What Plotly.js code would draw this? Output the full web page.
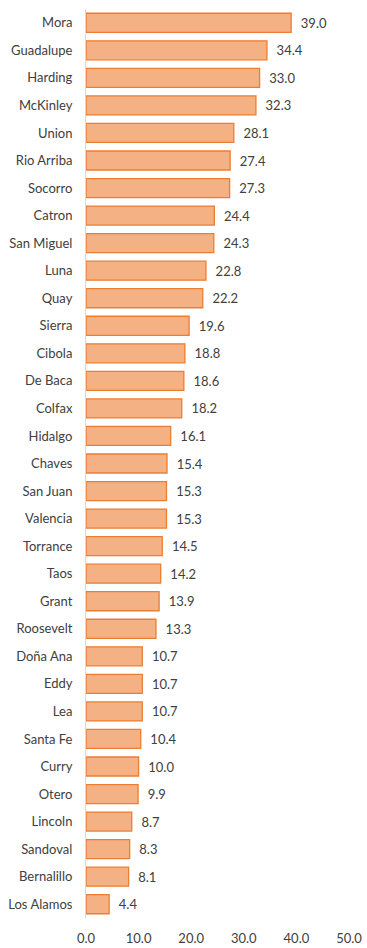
<!DOCTYPE html>
<html><head><meta charset="utf-8">
<script src="https://cdn.plot.ly/plotly-3.0.1.min.js"></script>
<style>html,body{margin:0;padding:0;background:#fff}#chart{width:367px;height:948px}</style>
</head><body><div id="chart"></div>
<script>
const counties = ["Mora","Guadalupe","Harding","McKinley","Union","Rio Arriba","Socorro","Catron","San Miguel","Luna","Quay","Sierra","Cibola","De Baca","Colfax","Hidalgo","Chaves","San Juan","Valencia","Torrance","Taos","Grant","Roosevelt","Doña Ana","Eddy","Lea","Santa Fe","Curry","Otero","Lincoln","Sandoval","Bernalillo","Los Alamos"];
const values = [39.0,34.4,33.0,32.3,28.1,27.4,27.3,24.4,24.3,22.8,22.2,19.6,18.8,18.6,18.2,16.1,15.4,15.3,15.3,14.5,14.2,13.9,13.3,10.7,10.7,10.7,10.4,10.0,9.9,8.7,8.3,8.1,4.4];
const xTicks = [0,10,20,30,40,50];
const xTickText = ["0.0","10.0","20.0","30.0","40.0","50.0"];

const fontFam = "Lato, 'Open Sans', sans-serif";
Plotly.newPlot('chart', [{
  type: 'bar', orientation: 'h',
  x: values, y: counties,
  marker: {color: '#F4B183', line: {color: '#ED7D31', width: 1.3}},
  texttemplate: '\u00a0\u00a0%{x:.1f}', textposition: 'outside', cliponaxis: false,
  textfont: {family: fontFam, size: 13, color: '#404040'},
  hoverinfo: 'none'
}], {
  width: 367, height: 948,
  margin: {l: 86, r: 18, t: 9, b: 30},
  paper_bgcolor: '#fff', plot_bgcolor: '#fff',
  bargap: 0.31,
  showlegend: false,
  font: {family: fontFam, size: 13, color: '#404040'},
  xaxis: {range: [0, 50], tickvals: xTicks, ticktext: xTickText, showgrid: false, zeroline: false,
          showline: false, ticks: '', ticklabelstandoff: 11, tickfont: {size: 13, color: '#404040'}},
  yaxis: {autorange: 'reversed', type: 'category', showgrid: false, zeroline: false,
          showline: true, linecolor: '#D9D9D9', linewidth: 1, ticks: '', ticklen: 0,
          ticklabelstandoff: 10,
          tickfont: {size: 13, color: '#404040'}, automargin: false}
}, {staticPlot: true});
</script></body></html>
